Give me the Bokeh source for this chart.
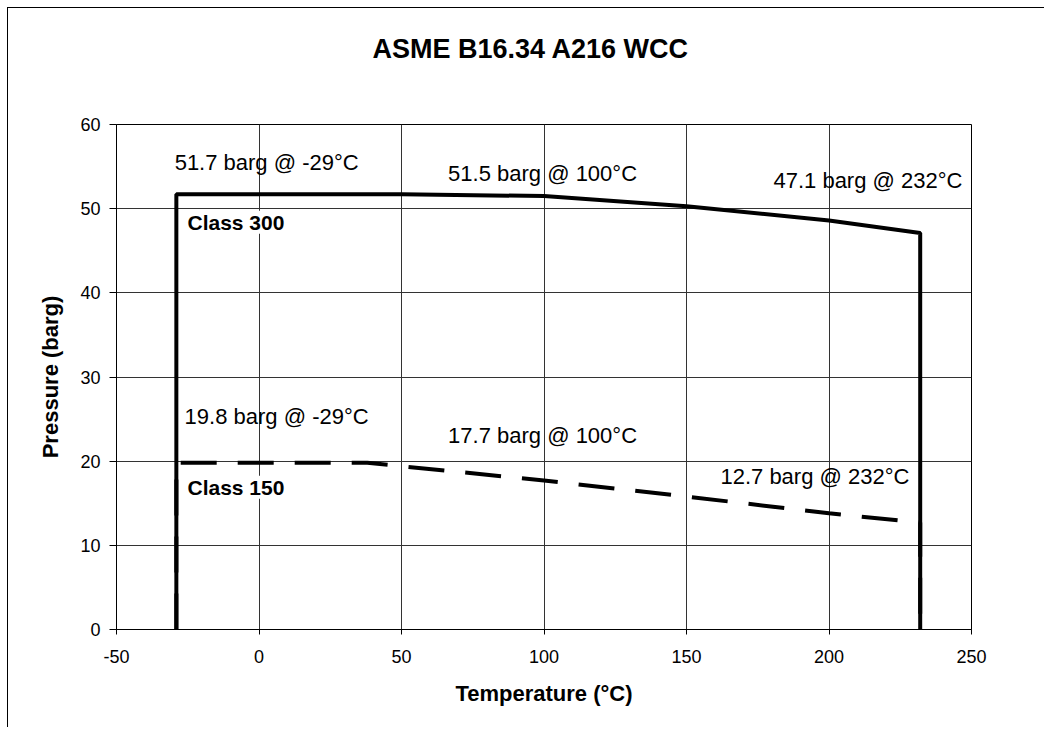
from bokeh.plotting import figure
from bokeh.models import Range1d, FixedTicker, ColumnDataSource, Title
from bokeh.core.properties import value
from bokeh.embed import file_html
from bokeh.resources import INLINE

# ---- data ----
temps = [-29, -29, 38, 50, 100, 150, 200, 232, 232]
class300 = [0, 51.7, 51.7, 51.7, 51.5, 50.3, 48.6, 47.1, 0]
class150 = [0, 19.8, 19.8, 19.4, 17.7, 15.8, 13.8, 12.7, 0]
x_ticks = [-50, 0, 50, 100, 150, 200, 250]
y_ticks = [0, 10, 20, 30, 40, 50, 60]
title_text = "ASME B16.34 A216 WCC"
x_title = "Temperature (°C)"
y_title = "Pressure (barg)"

FONT = "Liberation Sans"

p = figure(width=1037, height=720, output_backend="svg", toolbar_location=None,
           x_range=Range1d(-50, 250), y_range=Range1d(0, 60),
           min_border_left=108, min_border_right=74, min_border_top=116, min_border_bottom=99,
           title=None)
p.styles = {"border-left": "1px solid black", "border-top": "1px solid black",
            "margin-left": "7px", "margin-top": "7px"}

spacer = Title(text=" ", text_font=FONT, text_font_size="40px")
p.add_layout(spacer, "above")
t = Title(text=title_text, align="left", text_font=FONT, text_font_size="27px",
          text_font_style="bold", text_color="black", offset=256)
p.add_layout(t, "above")

p.background_fill_color = "white"
p.border_fill_color = "white"
p.outline_line_color = "black"
p.outline_line_width = 1
p.outline_line_alpha = 1

for ax in (p.xaxis[0], p.yaxis[0]):
    ax.axis_line_color = "black"
    ax.major_tick_line_color = "black"
    ax.minor_tick_line_color = None
    ax.major_tick_in = 0
    ax.major_label_text_font = FONT
    ax.major_label_text_font_size = "18px"
    ax.major_label_text_color = "black"
    ax.axis_label_text_font = FONT
    ax.axis_label_text_font_size = "22px"
    ax.axis_label_text_font_style = "bold"
    ax.axis_label_text_color = "black"

p.xaxis.ticker = FixedTicker(ticks=x_ticks)
p.yaxis.ticker = FixedTicker(ticks=y_ticks)
p.xaxis.major_label_overrides = {v: str(v) for v in x_ticks}
p.yaxis.major_label_overrides = {v: str(v) for v in y_ticks}
p.xaxis.major_tick_out = 5
p.yaxis.major_tick_out = 7
p.xaxis.major_label_standoff = 15
p.yaxis.major_label_standoff = 9
p.xaxis.axis_label = x_title
p.yaxis.axis_label = y_title
p.xaxis.axis_label_standoff = 15
p.yaxis.axis_label_standoff = 14

p.xgrid.ticker = FixedTicker(ticks=x_ticks)
p.ygrid.ticker = FixedTicker(ticks=y_ticks)
for g in (p.xgrid[0], p.ygrid[0]):
    g.grid_line_color = "#333333"
    g.grid_line_width = 1
    g.grid_line_alpha = 1

src = ColumnDataSource(dict(t=temps, c300=class300, c150=class150))
p.line("t", "c300", source=src, line_color="black", line_width=4)
p.line("t", "c150", source=src, line_color="black", line_width=4, line_dash="36 21")

def fmt(v, tt):
    return f"{v:.1f} barg @ {tt}°C"

# labels (text from the data; positions are layout)
lab_src = ColumnDataSource(dict(
    x=[-29.6, 99.5, 246.8],
    y=[55.5, 54.2, 53.3],
    text=[fmt(class300[1], temps[1]), fmt(class300[4], temps[4]), fmt(class300[7], temps[7])],
    align=["left", "center", "right"],
))
p.text("x", "y", text="text", source=lab_src, text_align="align", text_baseline="middle",
       text_font=value(FONT), text_font_size="22px", text_color="black")

lab_src2 = ColumnDataSource(dict(
    x=[-26.1, 99.5, 228.2],
    y=[25.3, 23.1, 18.15],
    text=[fmt(class150[1], temps[1]), fmt(class150[4], temps[4]), fmt(class150[7], temps[7])],
    align=["left", "center", "right"],
))
p.text("x", "y", text="text", source=lab_src2, text_align="align", text_baseline="middle",
       text_font=value(FONT), text_font_size="22px", text_color="black")

cls_src = ColumnDataSource(dict(x=[-25.1, -25.1], y=[48.4, 16.9], text=["Class 300", "Class 150"]))
p.text("x", "y", text="text", source=cls_src, text_align="left", text_baseline="middle",
       text_font=value(FONT), text_font_size="21px", text_font_style="bold", text_color="black",
       background_fill_color="white")

open("out.html", "w").write(file_html(p, INLINE))
